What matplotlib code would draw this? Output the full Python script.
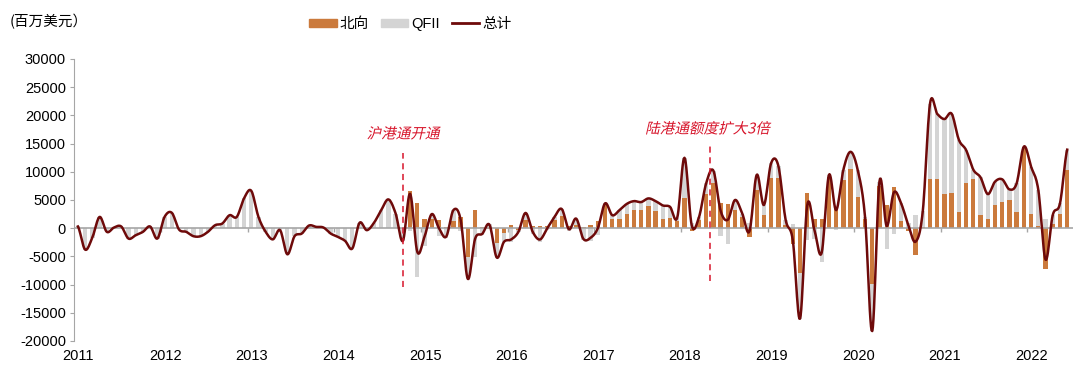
import numpy as np
import matplotlib
matplotlib.use("Agg")
import matplotlib.pyplot as plt
from matplotlib.patches import Patch, PathPatch
from matplotlib.lines import Line2D
from matplotlib.textpath import TextPath
from matplotlib.font_manager import FontProperties
from matplotlib.transforms import Affine2D, IdentityTransform, ScaledTranslation

plt.rcParams['font.family'] = ['Liberation Sans', 'Noto Sans CJK SC', 'DejaVu Sans']

# 月度数据：2011-01 至 2022-06，单位百万美元
years = list(range(2011, 2023))

# 北向（2014年11月沪港通开通前无数据）
north = [None] * 46 + [
    6600, 4500, 1700, 1700, 1400, 200, 1300, 2000, -5100, 3200, 200, -200,
    -2700, -830, 500, -300, 1500, 300, 400, 400, 1400, 2200, 300, 500,
    200, 600, 1200, 4200, 1700, 1700, 2600, 3200, 3200, 3900, 3080, 1660,
    1780, 1190, 5280, -470, 1420, 6050, 7950, 4400, 4300, 3200, 2000, -1540,
    6760, 2250, 8840, 8840, 530, -2850, -7950, 6170, 1660, 1660, 9130, 3600,
    8540, 10440, 5460, 1540, -9840, 7470, 4090, 7350, 1300, -470, -4800, 200,
    8660, 8660, 6050, 6290, 2850, 7950, 8660, 2250, 1540, 4090, 4630, 4980,
    2850, 14470, 2490, 470, -7180, 830, 2490, 10320,
]

qfii = [
    300, -3800, -1660, 2000, -650, 120, 300, -1840, -1250, -650, 300, -1840,
    2000, 2730, -230, -650, -1420, -1420, -650, 530, 830, 2300, 2000, 5280,
    6640, 2000, -650, -1980, -350, -4630, -1420, -950, 470, 230, 120, -950,
    -1540, -2250, -3600, 950, -350, 950, 3200, 5100, 2600, -2250,
    -500, -8700, -3200, 800, -1400, -1700, 1900, -500, -3900, -5100, -1200, 800,
    -2500, -1600, -2500, -350, 1200, -1000, -2400, -400, 600, 1200, -500, 1200,
    -2100, -2300, -1200, 200, 600, 1500, 1700, 1600, 1430, 1380, 1720, 2370,
    2000, 700, 7200, 1000, 500, 1900, 2250, -1300, -2800, 1800, 600, 1000,
    2700, 1850, 2700, 2200, 1000, 700, -8100, -2100, -2000, -6000, 300, -400,
    1800, 3100, 4800, 500, -8400, 800, -3700, -1000, 3100, 1000, 2400, 2800,
    13400, 11600, 13300, 14000, 12800, 5900, 1700, 6750, 4500, 4150, 4030, 1900,
    5100, 0, 8400, 6300, 1600, 1500, 1900, 3600,
]

n = np.array([np.nan if v is None else v for v in north], dtype=float)
q = np.array(qfii, dtype=float)
n0 = np.nan_to_num(n)
total = n0 + q
x = np.arange(len(q))

ORANGE = '#CB7A3C'
GRAY = '#D4D4D4'
LINE = '#6E0A0A'
RED = '#D7152B'
AXIS = '#A6A6A6'
DPI = 100


def smooth(xs, ys, k=12):
    # 类似Excel平滑线的Catmull-Rom样条
    p = np.concatenate([[ys[0]], ys, [ys[-1]]])
    out_x, out_y = [], []
    t = np.linspace(0, 1, k, endpoint=False)
    for i in range(len(ys) - 1):
        p0, p1, p2, p3 = p[i], p[i + 1], p[i + 2], p[i + 3]
        m1 = (p2 - p0) / 2
        m2 = (p3 - p1) / 2
        h00 = 2 * t**3 - 3 * t**2 + 1
        h10 = t**3 - 2 * t**2 + t
        h01 = -2 * t**3 + 3 * t**2
        h11 = t**3 - t**2
        out_y.append(h00 * p1 + h10 * m1 + h01 * p2 + h11 * m2)
        out_x.append(xs[i] + t)
    out_x.append([xs[-1]])
    out_y.append([ys[-1]])
    return np.concatenate(out_x), np.concatenate(out_y)


def italic_text(fig, ax, xd, yd, s, size, color):
    # CJK字体没有斜体，用倾斜变换模拟
    tp = TextPath((0, 0), s, size=size, prop=FontProperties(family='Noto Sans CJK SC'))
    bb = tp.get_extents()
    cx, cy = ax.transData.transform((xd, yd))
    tr = (Affine2D().translate(-(bb.x0 + bb.x1) / 2, -(bb.y0 + bb.y1) / 2)
          .scale(DPI / 72).skew_deg(13, 0).translate(cx, cy))
    fig.add_artist(PathPatch(tr.transform_path(tp), color=color, lw=0,
                             transform=IdentityTransform()))


fig = plt.figure(figsize=(10.8, 3.83), dpi=DPI)
ax = fig.add_axes([0.0688, 0.1097, 0.9247, 0.7363])

ax.bar(x, n0, width=0.6, color=ORANGE, zorder=2)
qbottom = np.where(np.sign(q) == np.sign(n0), n0, 0)
ax.bar(x, q, bottom=qbottom, width=0.6, color=GRAY, zorder=2)

ax.axhline(0, color=AXIS, lw=1.2, zorder=3)
ticks = [12 * k - 0.5 for k in range(len(years))]
ax.vlines(ticks[1:], -700, 0, color=AXIS, lw=1, zorder=3)

sx, sy = smooth(x, total)
ax.plot(sx, sy, color=LINE, lw=1.8, zorder=4)

ax.set_xlim(-0.5, 137.8)
ax.set_ylim(-20000, 30000)
ax.set_yticks(range(-20000, 30001, 5000))
ax.set_yticklabels([str(v) for v in range(-20000, 30001, 5000)], fontsize=10.5)
ax.set_xticks(ticks)
ax.set_xticklabels([str(y) for y in years], fontsize=10.5)
ax.tick_params(axis='x', length=0, pad=6)
ax.tick_params(axis='y', length=3, color=AXIS, pad=3)
for lab in ax.get_xticklabels():
    lab.set_transform(lab.get_transform() + ScaledTranslation(3 / 72, 0, fig.dpi_scale_trans))
for s in ['top', 'right', 'bottom']:
    ax.spines[s].set_visible(False)
ax.spines['left'].set_color(AXIS)

# 事件标注
ax.vlines(45, -10500, 13300, colors=RED, linestyles=(0, (4, 3)), lw=1.1, zorder=5)
italic_text(fig, ax, 45.2, 16900, '沪港通开通', 10.5, RED)
ax.vlines(87.6, -9300, 14700, colors=RED, linestyles=(0, (4, 3)), lw=1.1, zorder=5)
italic_text(fig, ax, 87.4, 17800, '陆港通额度扩大3倍', 10.5, RED)

fig.text(0.009, 0.943, '(百万美元）', fontsize=10.5, va='center',
         family=['Noto Sans CJK SC', 'DejaVu Sans'])

handles = [Patch(color=ORANGE), Patch(color=GRAY), Line2D([], [], color=LINE, lw=2)]
fig.legend(handles, ['北向', 'QFII', '总计'], loc='center', ncol=3,
           bbox_to_anchor=(0.38, 0.937), frameon=False, fontsize=10.5,
           handlelength=1.9, handleheight=0.55, columnspacing=0.8, handletextpad=0.2)

fig.savefig('out.png', dpi=DPI)
